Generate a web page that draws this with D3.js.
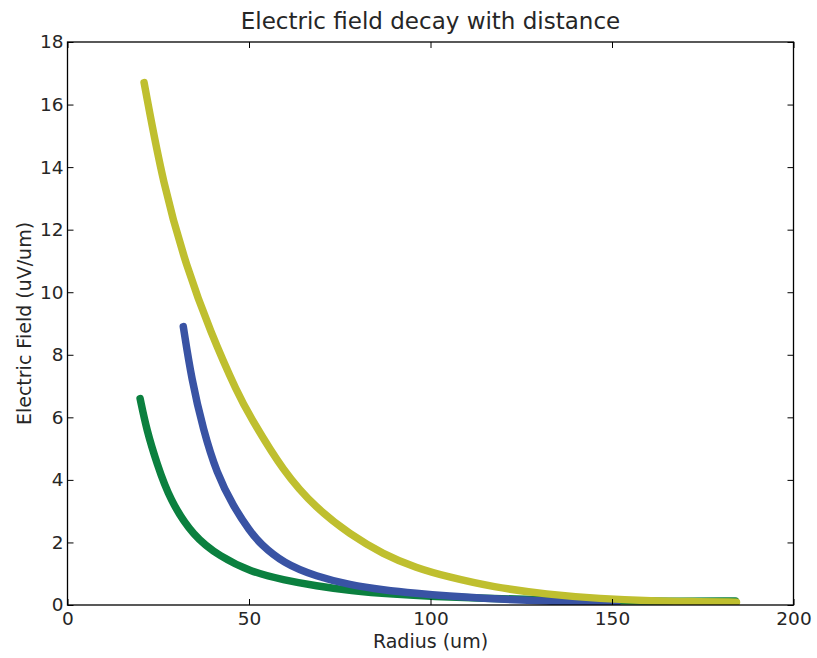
<!DOCTYPE html>
<html>
<head>
<meta charset="utf-8">
<script src="https://cdn.jsdelivr.net/npm/d3@7"></script>
<style>
  body { margin: 0; background: #fff; }
  text { font-family: "DejaVu Sans", sans-serif; fill: #262626; }
</style>
</head>
<body>
<svg id="chart" width="817" height="658"></svg>
<script>
// values (radius in um, field in uV/um)
var greenR = [20, 21.8, 24.6, 28.2, 34.7, 42, 50.3, 59.5, 68.6, 77.8, 90, 100.8, 115, 130, 150, 165, 184];
var greenE = [6.6, 5.6, 4.53, 3.36, 2.19, 1.55, 1.07, 0.8, 0.61, 0.46, 0.34, 0.27, 0.21, 0.17, 0.13, 0.12, 0.13];

var blueR = [31.9, 34.2, 37.4, 41.1, 45.7, 50.3, 53, 59.5, 68.6, 77.8, 87, 96.2, 104.5, 117.3, 132, 146.7, 151.3];
var blueE = [8.9, 7.2, 5.6, 4.21, 3.15, 2.35, 1.97, 1.33, 0.91, 0.64, 0.48, 0.37, 0.29, 0.19, 0.13, 0.05, 0.03];

var yellowR = [21.1, 26.4, 32.8, 39.3, 47.1, 50.3, 59.5, 68.6, 77.8, 87, 96.2, 104.5, 117.3, 132, 146.7, 161.4, 172, 184.3];
var yellowE = [16.7, 13.4, 10.8, 8.75, 6.7, 6.03, 4.25, 3.08, 2.26, 1.62, 1.18, 0.91, 0.57, 0.34, 0.2, 0.13, 0.11, 0.09];

var xTicks = [0, 50, 100, 150, 200];
var yTicks = [0, 2, 4, 6, 8, 10, 12, 14, 16, 18];

var series = [
    { r: greenR, e: greenE, colour: '#0b803f' },
    { r: blueR, e: blueE, colour: '#3953a4' },
    { r: yellowR, e: yellowE, colour: '#bfbf2f' }
];

var svg = d3.select('#chart');
var plotLeft = 67.5, plotRight = 793.5, plotTop = 42, plotBottom = 605;

var x = d3.scaleLinear().domain([0, 200]).range([plotLeft, plotRight]);
var y = d3.scaleLinear().domain([0, 18]).range([plotBottom, plotTop]);

svg.append('clipPath').attr('id', 'clip')
    .append('rect')
    .attr('x', plotLeft).attr('y', plotTop)
    .attr('width', plotRight - plotLeft).attr('height', plotBottom - plotTop);

var line = d3.line()
    .x(function (d) { return x(d[0]); })
    .y(function (d) { return y(d[1]); })
    .curve(d3.curveBasis);

var curves = svg.append('g').attr('clip-path', 'url(#clip)');
series.forEach(function (s) {
    var pts = s.r.map(function (r, i) { return [r, s.e[i]]; });
    curves.append('path')
        .datum(pts)
        .attr('d', line)
        .attr('fill', 'none')
        .attr('stroke', s.colour)
        .attr('stroke-width', 7.5)
        .attr('stroke-linecap', 'round')
        .attr('stroke-linejoin', 'round');
});

// axes: ticks pointing inward on all four sides
var tickLen = 6;
svg.append('g')
    .attr('transform', 'translate(0,' + plotBottom + ')')
    .call(d3.axisBottom(x).tickValues(xTicks).tickSizeInner(-tickLen).tickSizeOuter(0).tickPadding(7));
svg.append('g')
    .attr('transform', 'translate(0,' + plotTop + ')')
    .call(d3.axisTop(x).tickValues(xTicks).tickSizeInner(-tickLen).tickSizeOuter(0).tickFormat(''));
svg.append('g')
    .attr('transform', 'translate(' + plotLeft + ',0)')
    .call(d3.axisLeft(y).tickValues(yTicks).tickSizeInner(-tickLen).tickSizeOuter(0).tickPadding(4));
svg.append('g')
    .attr('transform', 'translate(' + plotRight + ',0)')
    .call(d3.axisRight(y).tickValues(yTicks).tickSizeInner(-tickLen).tickSizeOuter(0).tickFormat(''));

svg.selectAll('.domain').remove();
svg.selectAll('.tick line').attr('stroke', '#000').attr('stroke-width', 1);
svg.selectAll('.tick text')
    .style('font-family', '"DejaVu Sans", sans-serif')
    .style('font-size', '18.5px')
    .attr('fill', '#262626');

svg.append('rect')
    .attr('x', plotLeft).attr('y', plotTop)
    .attr('width', plotRight - plotLeft).attr('height', plotBottom - plotTop)
    .attr('fill', 'none')
    .attr('stroke', '#000')
    .attr('stroke-width', 1.3);

svg.append('text')
    .attr('x', (plotLeft + plotRight) / 2).attr('y', 29)
    .attr('text-anchor', 'middle')
    .style('font-size', '23px')
    .text('Electric field decay with distance');

svg.append('text')
    .attr('x', (plotLeft + plotRight) / 2).attr('y', 648)
    .attr('text-anchor', 'middle')
    .style('font-size', '19px')
    .text('Radius (um)');

svg.append('text')
    .attr('transform', 'translate(31,' + (plotTop + plotBottom) / 2 + ') rotate(-90)')
    .attr('text-anchor', 'middle')
    .style('font-size', '19px')
    .text('Electric Field (uV/um)');
</script>
</body>
</html>
